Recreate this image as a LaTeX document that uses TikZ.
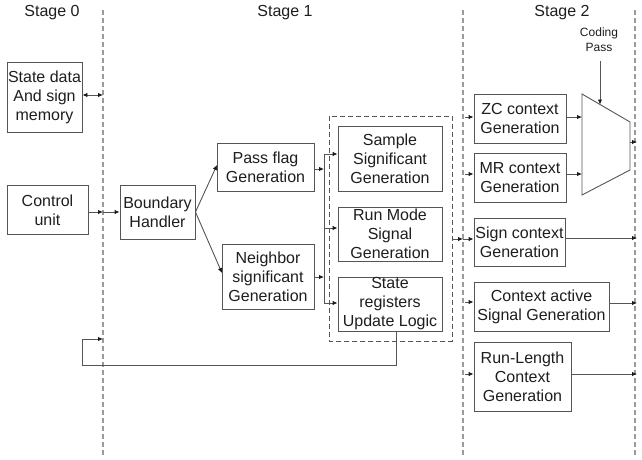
\documentclass[tikz,border=0pt]{standalone}
\usepackage{fontspec}
\setmainfont{Liberation Sans}
\usetikzlibrary{arrows.meta}
\definecolor{ln}{HTML}{555555}
\definecolor{dl}{HTML}{9A9A9A}
\definecolor{tx}{HTML}{1E1E1E}
\definecolor{tip}{HTML}{1A1A1A}
\begin{document}
\begin{tikzpicture}[x=1pt,y=-1pt,
  box/.style={draw=ln, line width=0.9pt, inner sep=0pt, align=center, text=tx,
    font=\fontsize{16}{19}\selectfont},
  stagelbl/.style={text=tx, font=\fontsize{16}{19}\selectfont},
  stageline/.style={draw=dl, line width=1.3pt, dash pattern=on 5pt off 3pt},
  conn/.style={draw=ln, line width=0.9pt},
  arr/.style={conn, -{Latex[length=5pt,width=4.5pt,color=tip]}},
  darr/.style={conn, {Latex[length=5pt,width=4.5pt,color=tip]}-{Latex[length=5pt,width=4.5pt,color=tip]}},
  grp/.style={draw=ln, line width=0.9pt, dash pattern=on 5pt off 3pt}]
\useasboundingbox (0,0) rectangle (642,460);
\fill[white] (0,0) rectangle (642,460);

% stage separators
\draw[stageline] (103,10) -- (103,455);
\draw[stageline] (463,10) -- (463,455);
\draw[stageline] (635,10) -- (635,455);

% stage labels
\node[stagelbl] (s0) at (52,13) {Stage 0};
\node[stagelbl] (s1) at (285,13) {Stage 1};
\node[stagelbl] (s2) at (562,13) {Stage 2};

% Stage 0 boxes
\node[box, minimum width=75, minimum height=70] (sd) at (44.5,97) {State data\\And sign\\memory};
\node[box, minimum width=81, minimum height=49] (cu) at (47.5,210) {Control\\unit};

% Stage 1 boxes
\node[box, minimum width=75, minimum height=54] (bh) at (157.5,212) {Boundary\\Handler};
\node[box, minimum width=97, minimum height=48] (pf) at (265.5,167) {Pass flag\\Generation};
\node[box, minimum width=92, minimum height=65] (ns) at (268,276.5) {Neighbor\\significant\\Generation};
\draw[grp] (329,116) rectangle (452,341);
\coordinate (grpE) at (452,239);
\node[box, minimum width=104, minimum height=65] (ss) at (390,158.5) {Sample\\Significant\\Generation};
\node[box, minimum width=104, minimum height=54] (rm) at (390,234) {Run Mode\\Signal\\Generation};
\node[box, minimum width=104, minimum height=54] (sr) at (390,304) {State\\registers\\Update Logic};

% Stage 2 boxes
\node[box, minimum width=92, minimum height=49] (zc) at (520,118.5) {ZC context\\Generation};
\node[box, minimum width=92, minimum height=49] (mr) at (520,177.5) {MR context\\Generation};
\node[box, minimum width=91, minimum height=48] (sc) at (519.5,242) {Sign context\\Generation};
\node[box, minimum width=135, minimum height=49] (ca) at (541.5,306.5) {Context active\\Signal Generation};
\node[box, minimum width=97, minimum height=69] (rl) at (522.5,376.5) {Run-Length\\Context\\Generation};

% multiplexer
\coordinate (m1) at (582,94);
\coordinate (m2) at (630,122);
\coordinate (m3) at (630,170);
\coordinate (m4) at (582,195);
\draw[conn] (m1) -- (m2) -- (m3) -- (m4) -- cycle;
\node[text=tx, align=center, font=\fontsize{12}{15}\selectfont] (cp) at (599,40) {Coding\\Pass};
\coordinate (cpin) at (600,104.5);
\draw[arr] (600,61) -- (cpin);

% coordinates on stage lines
\coordinate (d0) at (103,95);
\coordinate (d1) at (103,212);
\coordinate (d2) at (463,239);
\coordinate (fbE) at (103,339);

% Stage 0 connectors
\draw[darr] (sd.east |- d0) -- (d0);
\draw[arr] (cu.east |- d1) -- (d1);
\draw[arr] (d1) -- (bh.west |- d1);

% Stage 1 connectors
\draw[arr] (bh.east) -- (217,165);
\draw[arr] (bh.east) -- (222,273);
\coordinate (j1) at (324,154);
\coordinate (j2) at (324,228);
\coordinate (j3) at (324,303);
\draw[conn] (j1) -- (j3);
\draw[arr] (pf.east |- 0,169) -- (324,169);
\draw[arr] (ns.east |- 0,277) -- (324,277);
\draw[arr] (j1) -- (ss.west |- j1);
\draw[arr] (j2) -- (rm.west |- j2);
\draw[arr] (j3) -- (sr.west |- j3);

% feedback
\coordinate (fb1) at (396,365);
\coordinate (fb2) at (82,365);
\coordinate (fb3) at (82,339);
\draw[arr] (sr.south -| fb1) -- (fb1) -- (fb2) -- (fb3) -- (fbE);

% group to sign context
\draw[arr] (grpE) -- (d2);
\draw[arr] (d2) -- (sc.west |- d2);

% Stage 2 inputs
\draw[arr] (465,117) -- (zc.west |- 0,117);
\draw[arr] (465,174) -- (mr.west |- 0,174);
\draw[arr] (465,302) -- (ca.west |- 0,302);
\draw[arr] (465,374) -- (rl.west |- 0,374);

% into mux
\draw[arr] (zc.east |- 0,117) -- (582,117);
\draw[arr] (mr.east |- 0,174) -- (582,174);

% outputs
\draw[arr] (630,142) -- (637,142);
\draw[arr] (sc.east |- 0,238) -- (637,238);
\draw[arr] (ca.east |- 0,303) -- (637,303);
\draw[arr] (rl.east |- 0,374) -- (637,374);
\end{tikzpicture}
\end{document}
